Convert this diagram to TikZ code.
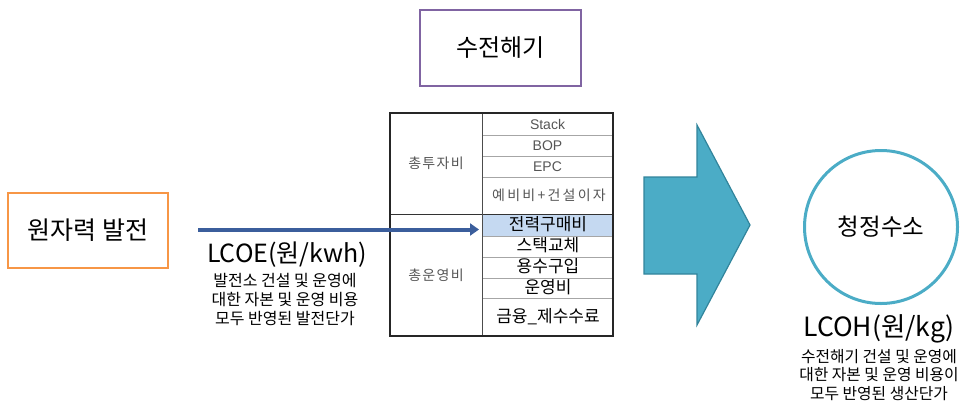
\documentclass[tikz,border=0pt]{standalone}
\usepackage{fontspec}
\setmainfont{Noto Sans CJK KR}
\newfontfamily\arialf{Liberation Sans}
\usetikzlibrary{arrows.meta}
\definecolor{orangeB}{HTML}{F79646}
\definecolor{purpleB}{HTML}{8064A2}
\definecolor{arrowB}{HTML}{3B5E9C}
\definecolor{tealF}{HTML}{4BACC6}
\definecolor{tealD}{HTML}{31849B}
\definecolor{rowF}{HTML}{C5D9F1}
\definecolor{grayT}{HTML}{555555}
\tikzset{
  fs/.style={font=\fontsize{#1}{30}\selectfont},
  sub/.style={align=center, font=\fontsize{16}{19}\selectfont},
  subr/.style={align=center, font=\fontsize{15.8}{18.5}\selectfont},
  cellA/.style={text=grayT, font=\arialf\fontsize{14}{16}\selectfont},
  cellK/.style={text=grayT, font=\addfontfeature{LetterSpace=9}\fontsize{14}{16}\selectfont},
  cellW/.style={text=grayT, font=\addfontfeature{LetterSpace=16}\fontsize{14}{16}\selectfont},
  cellB/.style={text=black, font=\fontsize{17}{19}\selectfont},
  inner/.style={draw=gray!70, line width=0.8pt},
}
\begin{document}
\begin{tikzpicture}[x=1pt,y=-1pt]
\useasboundingbox (0,0) rectangle (960,402);

% left box
\node[draw=orangeB, line width=2.5pt, minimum width=160pt, minimum height=75pt, fs=25] (nuc) at (88,230.5) {원자력 발전};
% top box
\node[draw=purpleB, line width=2.5pt, minimum width=161pt, minimum height=76pt, fs=24] (elec) at (500.5,48) {수전해기};

% table
\fill[rowF] (482,214) rectangle (613,236);
\draw[inner] (482,135) -- (613,135);
\draw[inner] (482,156) -- (613,156);
\draw[inner] (482,177) -- (613,177);
\draw[inner] (482,236) -- (613,236);
\draw[inner] (482,257) -- (613,257);
\draw[inner] (482,278) -- (613,278);
\draw[inner] (482,298) -- (613,298);
\draw[line width=0.9pt, black!80] (390,214) -- (613,214);
\draw[line width=0.9pt, black!70] (482,113) -- (482,336);
\draw[line width=1.3pt, black!85] (390,113) rectangle (613,336);

\node[cellK] (capex) at (436,163) {총투자비};
\node[cellK] (opex) at (436,275) {총운영비};
\node[cellA] (stack) at (547.5,124.5) {Stack};
\node[cellA] (bop) at (547.5,145.5) {BOP};
\node[cellA] (epc) at (547.5,166.5) {EPC};
\node[cellW] (resv) at (549,195) {예비비+건설이자};
\node[cellB] (buy) at (548,224) {전력구매비};
\node[cellB] (repl) at (548,245.5) {스택교체};
\node[cellB] (water) at (548,266) {용수구입};
\node[cellB] (oper) at (548,287.5) {운영비};
\node[cellB] (fin) at (548,317) {금융\_제수수료};

% LCOE arrow
\coordinate (lcoeS) at (198,229.5);
\coordinate (lcoeE) at (479,229.5);
\draw[arrowB, line width=4pt, -{Triangle[length=9pt,width=12pt]}] (lcoeS) -- (lcoeE);
\node[fs=25] (lcoe) at (287,255) {LCOE(원/kwh)};
\node[sub] (lcoesub) at (285,299) {발전소 건설 및 운영에\\대한 자본 및 운영 비용\\모두 반영된 발전단가};

% big arrow
\draw[fill=tealF, draw=tealD, line width=1.2pt, line join=miter]
  (644,177) -- (697,177) -- (697,125) -- (750,225) -- (697,325) -- (697,274) -- (644,274) -- cycle;

% circle
\node[circle, draw=tealF, line width=3pt, minimum size=153pt, fs=23.5] (h2) at (881,227) {청정수소};
\node[fs=26.5] (lcoh) at (879,329) {LCOH(원/kg)};
\node[subr] (lcohsub) at (879,375) {수전해기 건설 및 운영에\\대한 자본 및 운영 비용이\\모두 반영된 생산단가};
\end{tikzpicture}
\end{document}
